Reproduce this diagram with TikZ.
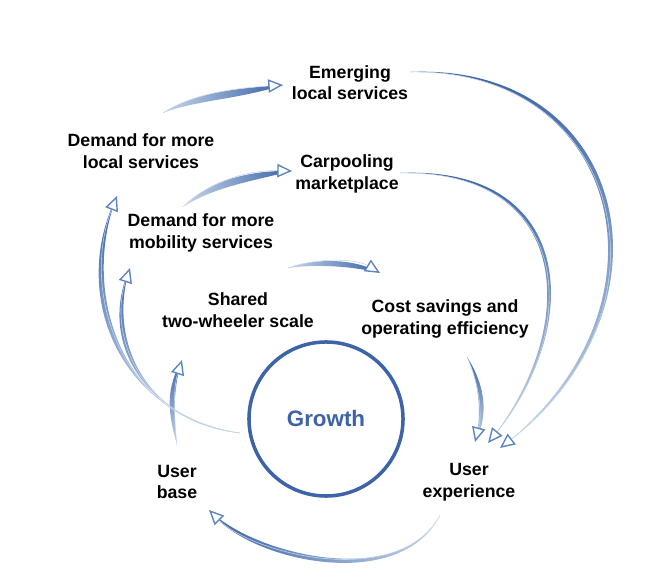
\documentclass[tikz,border=0pt]{standalone}
\usepackage{fontspec}
\setmainfont{Liberation Sans}
\usetikzlibrary{arrows.meta}
\definecolor{growthblue}{HTML}{3D63A9}
\definecolor{flowdark}{HTML}{3A62A7}
\definecolor{flowlight}{HTML}{C6D6EA}
\definecolor{flowmid}{HTML}{5F85C1}
\tikzset{
    Pixels/.style={x=0.025cm,y=-0.025cm},
    lbl/.style={font=\bfseries\fontsize{12.6}{15.3}\selectfont, align=center, inner sep=0pt},
    flow/.style={draw=flowlight, line width=0.4pt, -{Triangle[length=10.5pt,width=9.5pt,color=flowmid,fill=white,line width=1pt]}},
    bodyup/.style={top color=flowdark, bottom color=flowlight},
    bodyleft/.style={left color=flowdark, right color=flowlight},
    bodyright/.style={left color=flowlight, right color=flowdark}
}

\begin{document}
\begin{tikzpicture}[Pixels]
            \useasboundingbox (0,0) rectangle (672,583);

            \node[lbl] (emerg) at (350,82.5) {Emerging\\local services};
            \node[lbl] (dlocal) at (141,151) {Demand for more\\local services};
            \node[lbl] (carpool) at (347,174) {Carpooling\\marketplace};
            \node[lbl] (dmob) at (201,233) {Demand for more\\mobility services};
            \node[lbl] (shared) at (238,310) {Shared\\two-wheeler scale};
            \node[lbl] (cost) at (445,319) {Cost savings and\\operating efficiency};
            \node[lbl] (ubase) at (177,482) {User\\base};
            \node[lbl] (ux) at (469,482) {User\\experience};
            \node[circle, draw=growthblue, line width=2.5pt, minimum size=3.85cm, text=growthblue,
                font=\bfseries\fontsize{15.9}{18}\selectfont] (growth) at (326,419) {Growth};

            % free ends
            \coordinate (uxout) at ([shift={(-29,33)}]ux.center);
            \coordinate (ubaseout) at ([shift={(0,-37)}]ubase.center);
            \coordinate (growthout) at ([shift={(-86,14)}]growth.center);
            \coordinate (dlocalout) at ([shift={(22,-38)}]dlocal.center);
            \coordinate (dmobout) at ([shift={(-18,-26)}]dmob.center);
            \coordinate (sharedout) at ([shift={(50,-42)}]shared.center);
            \coordinate (costout) at ([shift={(22,38)}]cost.center);
            \coordinate (carpoolout) at ([shift={(53,-1)}]carpool.center);
            \coordinate (emergout) at ([shift={(60,-10.5)}]emerg.center);

            % user experience -> user base
            \shade[bodyleft] (uxout) .. controls (400,590) and (254,555) .. ([shift={(32,28)}]ubase.center)
                .. controls (249,563) and (402,594) .. (uxout) -- cycle;
            \draw[flow] (uxout) .. controls (400,590) and (254,555) .. ([shift={(32,28)}]ubase.center);

            % user base -> shared scale
            \shade[bodyup] (ubaseout) .. controls (173,410) and (174,385) .. ([shift={(-56,50)}]shared.center)
                .. controls (166,388) and (167,410) .. (ubaseout) -- cycle;
            \draw[flow] (ubaseout) .. controls (173,410) and (174,385) .. ([shift={(-56,50)}]shared.center);

            % growth -> demand for more mobility services
            \shade[bodyup] (growthout) .. controls (140,420) and (108,335) .. ([shift={(-71,35)}]dmob.center)
                .. controls (98,338) and (140,417) .. (growthout) -- cycle;
            \draw[flow] (growthout) .. controls (140,420) and (108,335) .. ([shift={(-71,35)}]dmob.center);

            % growth -> demand for more local services
            \shade[bodyup] (growthout) .. controls (120,420) and (80,290) .. ([shift={(-24,45)}]dlocal.center)
                .. controls (69,292) and (117,415) .. (growthout) -- cycle;
            \draw[flow] (growthout) .. controls (120,420) and (80,290) .. ([shift={(-24,45)}]dlocal.center);

            % demand for more local services -> emerging local services
            \shade[bodyright] (dlocalout) .. controls (195,92) and (240,88) .. ([shift={(-67,2.5)}]emerg.center)
                .. controls (236,100) and (196,100) .. (dlocalout) -- cycle;
            \draw[flow] (dlocalout) .. controls (195,92) and (240,88) .. ([shift={(-67,2.5)}]emerg.center);

            % demand for more mobility services -> carpooling marketplace
            \shade[bodyright] (dmobout) .. controls (210,180) and (250,170) .. ([shift={(-55,-3)}]carpool.center)
                .. controls (247,182) and (212,188) .. (dmobout) -- cycle;
            \draw[flow] (dmobout) .. controls (210,180) and (250,170) .. ([shift={(-55,-3)}]carpool.center);

            % shared scale -> cost savings
            \shade[bodyright] (sharedout) .. controls (315,258) and (355,258) .. ([shift={(-65,-46)}]cost.center)
                .. controls (352,266) and (315,264) .. (sharedout) -- cycle;
            \draw[flow] (sharedout) .. controls (315,258) and (355,258) .. ([shift={(-65,-46)}]cost.center);

            % cost savings -> user experience
            \shade[bodyup] (costout) .. controls (480,385) and (482,415) .. ([shift={(6,-40)}]ux.center)
                .. controls (488,418) and (487,388) .. (costout) -- cycle;
            \draw[flow] (costout) .. controls (480,385) and (482,415) .. ([shift={(6,-40)}]ux.center);

            % carpooling marketplace -> user experience
            \shade[bodyup] (carpoolout) .. controls (575,170) and (580,330) .. ([shift={(19,-39)}]ux.center)
                .. controls (586,332) and (579,165) .. (carpoolout) -- cycle;
            \draw[flow] (carpoolout) .. controls (575,170) and (580,330) .. ([shift={(19,-39)}]ux.center);

            % emerging local services -> user experience
            \shade[bodyup] (emergout) .. controls (625,68) and (680,310) .. ([shift={(31,-34)}]ux.center)
                .. controls (688,312) and (630,62) .. (emergout) -- cycle;
            \draw[flow] (emergout) .. controls (625,68) and (680,310) .. ([shift={(31,-34)}]ux.center);
\end{tikzpicture}
\end{document}
